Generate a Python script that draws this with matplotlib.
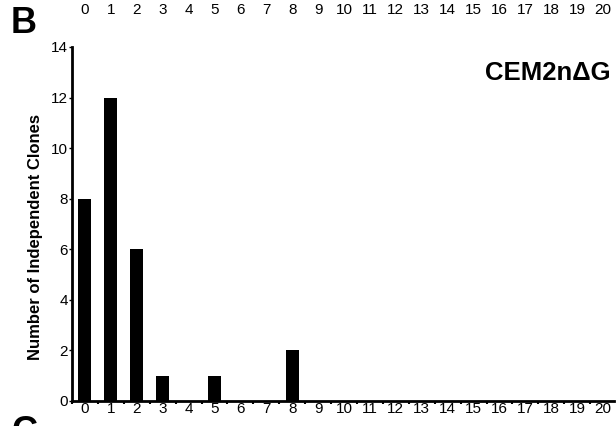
import matplotlib
matplotlib.use("Agg")
import matplotlib.pyplot as plt
import matplotlib.transforms as mtransforms

plt.rcParams['font.family'] = ['Liberation Sans', 'DejaVu Sans']

# Data
positions = list(range(21))
clones = [8, 12, 6, 1, 0, 1, 0, 0, 2, 0, 0, 0, 0, 0, 0, 0, 0, 0, 0, 0, 0]
tick_labels = [str(p) for p in positions]

fig = plt.figure(figsize=(6.16, 4.26), dpi=100)
ax = fig.add_axes([0.1169, 0.0587, 0.8799, 0.831])

ax.bar(positions, clones, width=0.5, color='black')

ax.set_xlim(-0.46, 20.42)
ax.set_ylim(0, 14)
ax.set_yticks(range(0, 15, 2))
ax.set_xticks(positions)
ax.set_xticklabels(tick_labels, fontsize=11)
ax.set_xticks([p + 0.5 for p in positions[:-1]] + [-0.5], minor=True)
ax.tick_params(axis='x', which='major', length=0, pad=1)
ax.tick_params(axis='x', which='minor', length=2, width=1.5, direction='out')
ax.tick_params(axis='y', length=2, width=1, pad=1, labelsize=11)

for side in ['top', 'right']:
    ax.spines[side].set_visible(False)
ax.spines['left'].set_linewidth(2)
ax.spines['bottom'].set_linewidth(2)

fig.text(0.057, 0.444, "Number of Independent Clones", rotation=90, ha='center', va='center',
         fontsize=12, fontweight='bold')

ax.text(0.994, 0.927, "CEM2n\u0394G", transform=ax.transAxes, ha='right', va='center',
        fontsize=18.5, fontweight='bold')

# leftover tick labels of the panel above
trans = mtransforms.blended_transform_factory(ax.transData, fig.transFigure)
for p, lab in zip(positions, tick_labels):
    ax.text(p, 0.976, lab, transform=trans, ha='center', va='center', fontsize=11, clip_on=False)

fig.text(0.018, 0.945, "B", fontsize=26, fontweight='bold', va='center', ha='left')
fig.text(0.018, -0.015, "C", fontsize=26, fontweight='bold', va='center', ha='left')

fig.savefig("out.png", dpi=100)
